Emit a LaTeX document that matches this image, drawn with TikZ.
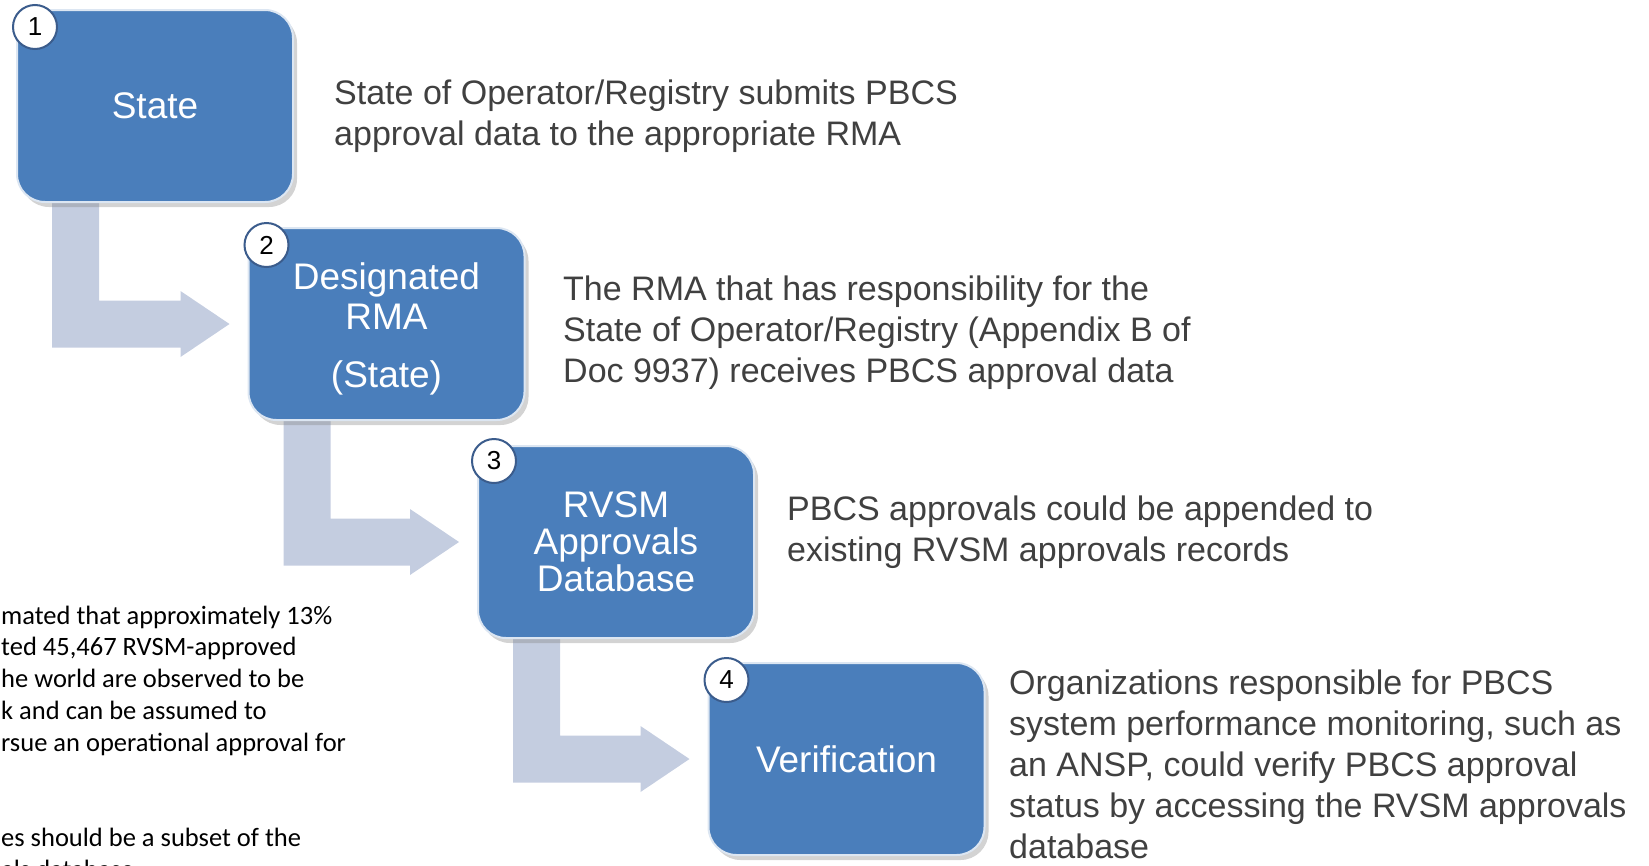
\documentclass[tikz,border=0pt]{standalone}
\usepackage{fontspec}
\setmainfont{Liberation Sans}
\newfontfamily\notefont{Carlito}
\usetikzlibrary{calc,shadows,backgrounds}
\definecolor{stepblue}{HTML}{4A7EBB}
\definecolor{stepedge}{HTML}{DCE6F2}
\definecolor{flowgray}{HTML}{C4CDE0}
\definecolor{numedge}{HTML}{3B5C8C}
\definecolor{desctext}{HTML}{404040}

\tikzset{
  stepbox/.style={rounded corners=28pt, fill=stepblue, draw=stepedge, line width=2pt,
    minimum width=276pt, minimum height=192pt, text=white, align=center,
    font=\fontsize{37}{37}\selectfont,
    drop shadow={shadow xshift=4pt, shadow yshift=-5pt, opacity=0.35}},
  numdot/.style={circle, fill=white, draw=numedge, line width=2pt, minimum size=44pt,
    inner sep=0pt, font=\fontsize{26}{26}\selectfont},
  desc/.style={anchor=base west, align=left, inner sep=0pt, text=desctext,
    font=\fontsize{34}{41}\selectfont},
  note/.style={anchor=base west, align=left, inner sep=0pt,
    font=\notefont\fontsize{26.5}{31.75}\selectfont},
  flow/.style={fill=flowgray}
}

\newcommand{\flowarrow}[2]{%
  \fill[flow] let \p1=(#1.south west), \p2=(#2.west) in
    (\x1+36pt,\y1+10pt) -- (\x1+36pt,\y2-23.5pt) -- (\x2-67pt,\y2-23.5pt)
    -- (\x2-67pt,\y2-33pt) -- (\x2-18pt,\y2) -- (\x2-67pt,\y2+33pt)
    -- (\x2-67pt,\y2+23.5pt) -- (\x1+83pt,\y2+23.5pt) -- (\x1+83pt,\y1+10pt) -- cycle;}

\begin{document}
\begin{tikzpicture}[x=1pt, y=-1pt]
  \useasboundingbox (0,0) rectangle (1649,865);
  \clip (0,0) rectangle (1649,865);

  \node[stepbox] (state) at (155,106) {State};
  \node[stepbox] (rma) at (386.5,324) {\rule{0pt}{37pt}Designated\\[3pt]RMA\\[21pt](State)};
  \node[stepbox] (rvsm) at (616,542) {RVSM\\Approvals\\Database};
  \node[stepbox] (verify) at (846.5,759) {Verification};

  \node[numdot] (num1) at ($(state.north west)+(19,18)$) {1};
  \node[numdot] (num2) at ($(rma.north west)+(19,18)$) {2};
  \node[numdot] (num3) at ($(rvsm.north west)+(17,16)$) {3};
  \node[numdot] (num4) at ($(verify.north west)+(19,18)$) {4};

  \begin{scope}[on background layer]
    \flowarrow{state}{rma}
    \flowarrow{rma}{rvsm}
    \flowarrow{rvsm}{verify}
  \end{scope}

  % base anchor sits on the last line
  \node[desc] (desc1) at (334,145) {State of Operator/Registry submits PBCS\\approval data to the appropriate RMA};
  \node[desc] (desc2) at (563,382) {The RMA that has responsibility for the\\State of Operator/Registry (Appendix B of\\Doc 9937) receives PBCS approval data};
  \node[desc] (desc3) at (787,561) {PBCS approvals could be appended to\\existing RVSM approvals records};
  \node[desc] (desc4) at (1009,858) {Organizations responsible for PBCS\\system performance monitoring, such as\\an ANSP, could verify PBCS approval\\status by accessing the RVSM approvals\\database};

  \node[note] (note1) at (1,751) {mated that approximately 13\%\\ted 45,467 RVSM-approved\\he world are observed to be\\k and can be assumed to\\rsue an operational approval for};
  \node[note] (note2) at (1,878) {es should be a subset of the\\als database};
\end{tikzpicture}
\end{document}
